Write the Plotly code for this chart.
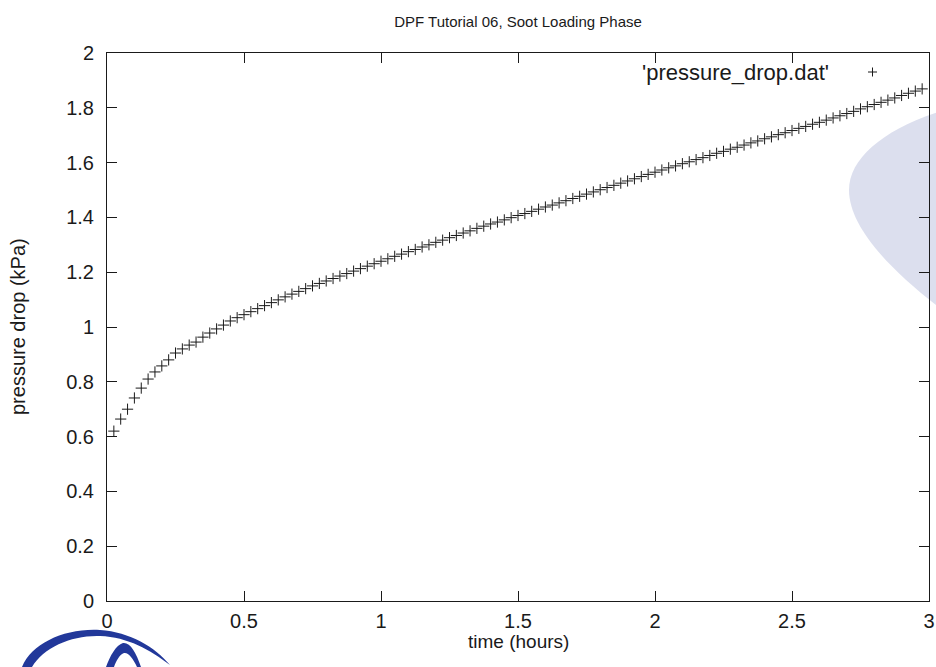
import plotly.graph_objects as go

# ---- data ----
time_hours = [0.025, 0.05, 0.075, 0.1, 0.125, 0.15, 0.175, 0.2, 0.225, 0.25,
              0.275, 0.3, 0.325, 0.35, 0.375, 0.4, 0.425, 0.45, 0.475, 0.5,
              0.525, 0.55, 0.575, 0.6, 0.625, 0.65, 0.675, 0.7, 0.725, 0.75,
              0.775, 0.8, 0.825, 0.85, 0.875, 0.9, 0.925, 0.95, 0.975, 1.0,
              1.025, 1.05, 1.075, 1.1, 1.125, 1.15, 1.175, 1.2, 1.225, 1.25,
              1.275, 1.3, 1.325, 1.35, 1.375, 1.4, 1.425, 1.45, 1.475, 1.5,
              1.525, 1.55, 1.575, 1.6, 1.625, 1.65, 1.675, 1.7, 1.725, 1.75,
              1.775, 1.8, 1.825, 1.85, 1.875, 1.9, 1.925, 1.95, 1.975, 2.0,
              2.025, 2.05, 2.075, 2.1, 2.125, 2.15, 2.175, 2.2, 2.225, 2.25,
              2.275, 2.3, 2.325, 2.35, 2.375, 2.4, 2.425, 2.45, 2.475, 2.5,
              2.525, 2.55, 2.575, 2.6, 2.625, 2.65, 2.675, 2.7, 2.725, 2.75,
              2.775, 2.8, 2.825, 2.85, 2.875, 2.9, 2.925, 2.95, 2.975]

pressure_drop_kpa = [0.620, 0.664, 0.700, 0.741, 0.777, 0.810, 0.836, 0.858, 0.880, 0.905,
                     0.920, 0.934, 0.945, 0.963, 0.978, 0.993, 1.007, 1.022, 1.034, 1.045,
                     1.056, 1.067, 1.078, 1.089, 1.099, 1.110, 1.120, 1.130, 1.140, 1.150,
                     1.159, 1.168, 1.177, 1.186, 1.195, 1.204, 1.213, 1.222, 1.231, 1.240,
                     1.249, 1.258, 1.266, 1.275, 1.283, 1.292, 1.300, 1.309, 1.317, 1.326,
                     1.334, 1.343, 1.351, 1.360, 1.368, 1.376, 1.383, 1.391, 1.399, 1.407,
                     1.414, 1.422, 1.430, 1.438, 1.445, 1.453, 1.461, 1.469, 1.477, 1.485,
                     1.493, 1.501, 1.509, 1.517, 1.525, 1.533, 1.541, 1.549, 1.557, 1.565,
                     1.573, 1.581, 1.588, 1.596, 1.603, 1.611, 1.618, 1.626, 1.634, 1.641,
                     1.649, 1.656, 1.664, 1.672, 1.679, 1.687, 1.694, 1.702, 1.709, 1.717,
                     1.725, 1.732, 1.740, 1.747, 1.755, 1.763, 1.771, 1.779, 1.787, 1.796,
                     1.804, 1.812, 1.820, 1.828, 1.836, 1.845, 1.853, 1.861, 1.869]

x_tick_vals = [0, 0.5, 1, 1.5, 2, 2.5, 3]
x_tick_text = ["0", "0.5", "1", "1.5", "2", "2.5", "3"]
y_tick_vals = [0, 0.2, 0.4, 0.6, 0.8, 1.0, 1.2, 1.4, 1.6, 1.8, 2.0]
y_tick_text = ["0", "0.2", "0.4", "0.6", "0.8", "1", "1.2", "1.4", "1.6", "1.8", "2"]

title_text = "DPF Tutorial 06, Soot Loading Phase"
x_title = "time (hours)"
y_title = "pressure drop (kPa)"
legend_text = "'pressure_drop.dat'"

# ---- layout geometry ----
W, H = 936, 667
L, R, T, B = 107, 929, 53, 601
PW, PH = R - L, B - T
FONT = "Liberation Sans, Arial, Helvetica, sans-serif"
INK = "#1a1a1a"


def px(x):
    return (x - L) / PW


def py(y):
    return (B - y) / PH


def path_from_pixels(cmds):
    out = []
    for c in cmds:
        op = c[0]
        pts = c[1:]
        s = op
        for i in range(0, len(pts), 2):
            s += " %.5f,%.5f" % (px(pts[i]), py(pts[i + 1]))
        out.append(s)
    return " ".join(out) + " Z"


fig = go.Figure()
fig.add_trace(go.Scatter(
    x=time_hours, y=pressure_drop_kpa, mode="markers",
    marker=dict(symbol="cross-thin", size=8, color=INK,
                line=dict(width=1, color=INK)),
    showlegend=False, cliponaxis=False,
))

shapes = []
# watermark ellipse on the right
shapes.append(dict(
    type="path", xref="paper", yref="paper", layer="below", line_width=0,
    fillcolor="#dcdfee",
    path=path_from_pixels([
        ("M", 945, 110),
        ("C", 885, 128, 849, 158, 849, 190),
        ("C", 849, 228, 892, 272, 945, 312),
    ]),
))
# logo at bottom-left
shapes.append(dict(
    type="path", xref="paper", yref="paper", line_width=0,
    fillcolor="#22389a",
    path=path_from_pixels([
        ("M", 22, 667),
        ("C", 32, 643, 65, 628, 100, 630),
        ("C", 130, 632, 155, 647, 170, 665),
        ("C", 150, 650, 128, 637, 100, 636),
        ("C", 72, 635, 44, 647, 32, 667),
    ]),
))
shapes.append(dict(
    type="path", xref="paper", yref="paper", line_width=0,
    fillcolor="#22389a",
    path=path_from_pixels([
        ("M", 106, 667),
        ("C", 110, 656, 116, 645, 123, 643),
        ("C", 130, 642, 136, 652, 141, 667),
        ("L", 137, 667),
        ("C", 133, 658, 128, 652, 124, 653),
        ("C", 120, 654, 116, 661, 114, 667),
    ]),
))
# legend sample "+"
shapes.append(dict(type="line", xref="paper", yref="paper",
                   x0=px(868), x1=px(877), y0=py(72), y1=py(72),
                   line=dict(color=INK, width=1)))
shapes.append(dict(type="line", xref="paper", yref="paper",
                   x0=px(872.5), x1=px(872.5), y0=py(67.5), y1=py(76.5),
                   line=dict(color=INK, width=1)))

annotations = [
    dict(text=legend_text, xref="paper", yref="paper", x=px(831), y=py(72),
         xanchor="right", yanchor="middle", showarrow=False,
         font=dict(family=FONT, size=22, color=INK)),
    dict(text=x_title, xref="paper", yref="paper", x=0.5, y=py(641),
         xanchor="center", yanchor="middle", showarrow=False,
         font=dict(family=FONT, size=19, color=INK)),
    dict(text=y_title, xref="paper", yref="paper", x=px(18), y=0.5,
         xanchor="center", yanchor="middle", showarrow=False, textangle=-90,
         font=dict(family=FONT, size=20, color=INK)),
]

axis_common = dict(
    showgrid=False, zeroline=False, showline=True, linecolor=INK,
    linewidth=1, mirror="ticks", ticks="inside", ticklen=10,
    tickcolor=INK, tickwidth=1,
    tickfont=dict(family=FONT, size=20, color=INK),
)

fig.update_layout(
    width=W, height=H,
    margin=dict(l=L, r=W - R, t=T, b=H - B, pad=0),
    paper_bgcolor="white", plot_bgcolor="rgba(0,0,0,0)",
    title=dict(text=title_text, x=0.5, xref="paper", xanchor="center",
               y=1 - 22 / H, yref="container", yanchor="middle",
               font=dict(family=FONT, size=15, color=INK)),
    xaxis=dict(range=[0, 3], tickvals=x_tick_vals, ticktext=x_tick_text,
               ticklabelstandoff=2, automargin=False, **axis_common),
    yaxis=dict(range=[0, 2], tickvals=y_tick_vals, ticktext=y_tick_text,
               ticklabelstandoff=8, automargin=False, **axis_common),
    shapes=shapes, annotations=annotations, showlegend=False,
)

fig.write_html("out.html",
               config={"displayModeBar": False},
               post_script="document.body.style.margin='0px';"
                           "document.body.style.overflow='hidden';")
